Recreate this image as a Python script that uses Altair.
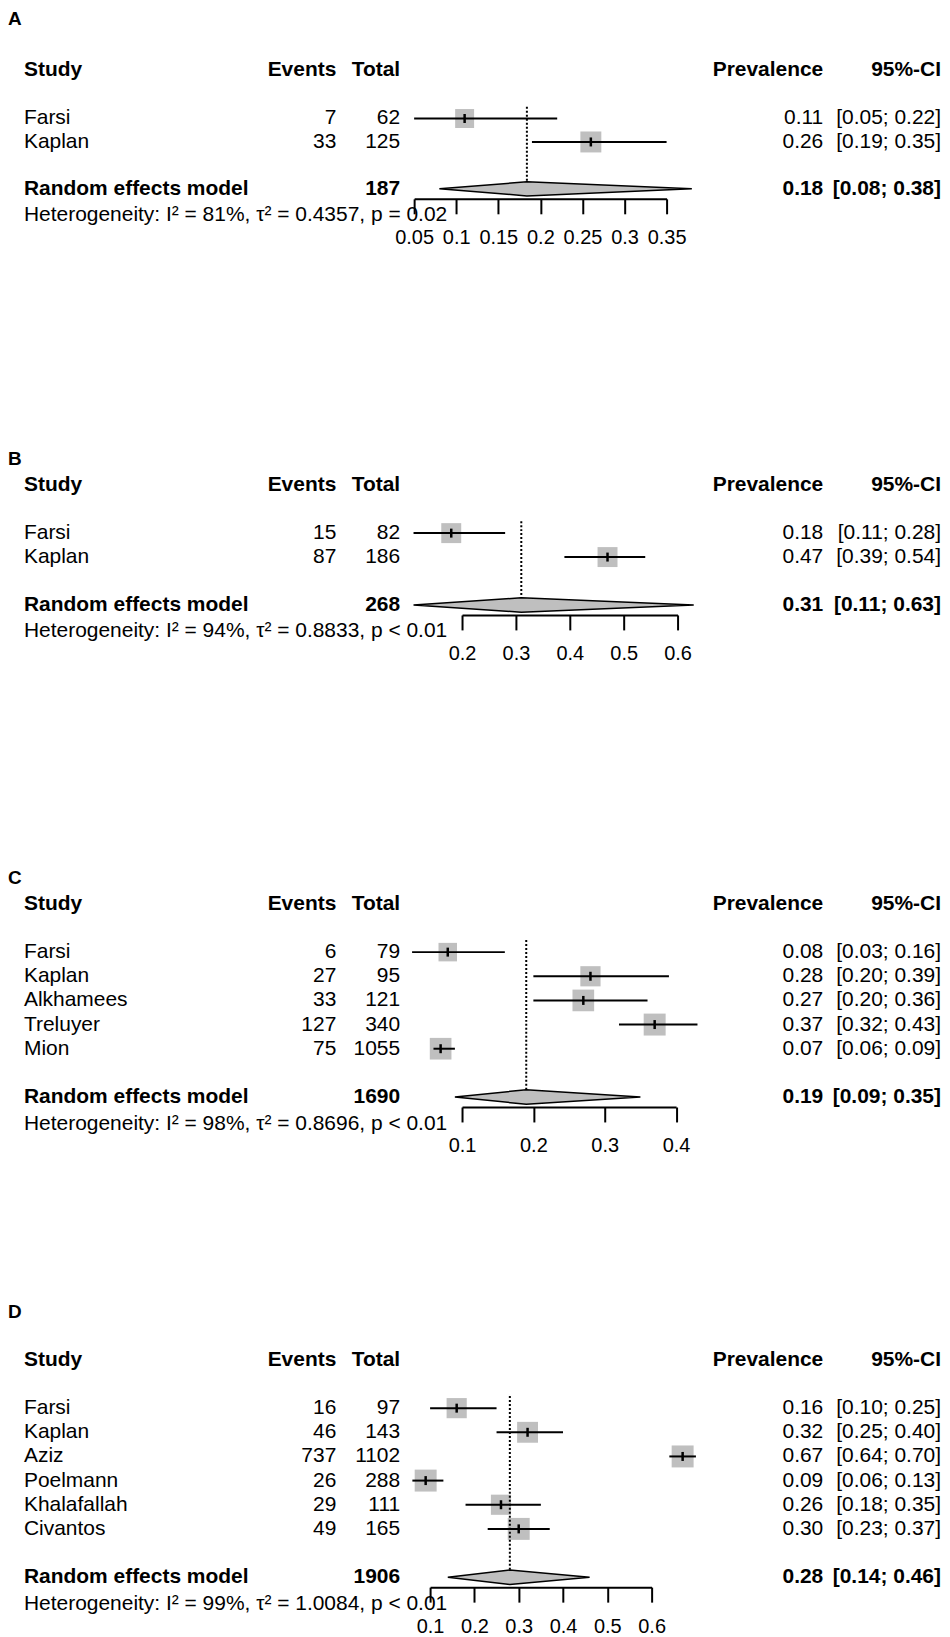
import altair as alt
import pandas as pd

FONT = "Liberation Sans, Arial, Helvetica, sans-serif"

# ---------------- data ----------------
# Panel A
a_study = ["Farsi", "Kaplan"]
a_events = [7, 33]
a_total = [62, 125]
a_est = [0.11, 0.26]
a_lo = [0.05, 0.19]
a_hi = [0.22, 0.35]
a_weight = [45, 55]
a_pool_total = 187
a_pool = [0.184, 0.08, 0.38]
a_het = "Heterogeneity: I² = 81%, τ² = 0.4357, p = 0.02"
a_ticks = [0.05, 0.10, 0.15, 0.20, 0.25, 0.30, 0.35]

# Panel B
b_study = ["Farsi", "Kaplan"]
b_events = [15, 87]
b_total = [82, 186]
b_est = [0.18, 0.47]
b_lo = [0.11, 0.39]
b_hi = [0.28, 0.54]
b_weight = [50, 50]
b_pool_total = 268
b_pool = [0.31, 0.11, 0.63]
b_het = "Heterogeneity: I² = 94%, τ² = 0.8833, p < 0.01"
b_ticks = [0.2, 0.3, 0.4, 0.5, 0.6]

# Panel C
c_study = ["Farsi", "Kaplan", "Alkhamees", "Treluyer", "Mion"]
c_events = [6, 27, 33, 127, 75]
c_total = [79, 95, 121, 340, 1055]
c_est = [0.08, 0.28, 0.27, 0.37, 0.07]
c_lo = [0.03, 0.20, 0.20, 0.32, 0.06]
c_hi = [0.16, 0.39, 0.36, 0.43, 0.09]
c_weight = [15.8, 18.8, 21.6, 22.2, 21.6]
c_pool_total = 1690
c_pool = [0.19, 0.09, 0.35]
c_het = "Heterogeneity: I² = 98%, τ² = 0.8696, p < 0.01"
c_ticks = [0.1, 0.2, 0.3, 0.4]

# Panel D
d_study = ["Farsi", "Kaplan", "Aziz", "Poelmann", "Khalafallah", "Civantos"]
d_events = [16, 46, 737, 26, 29, 49]
d_total = [97, 143, 1102, 288, 111, 165]
d_est = [0.16, 0.32, 0.67, 0.09, 0.26, 0.30]
d_lo = [0.10, 0.25, 0.64, 0.06, 0.18, 0.23]
d_hi = [0.25, 0.40, 0.70, 0.13, 0.35, 0.37]
d_weight = [15.1, 16.2, 17.9, 17.9, 15.1, 17.9]
d_pool_total = 1906
d_pool = [0.28, 0.14, 0.46]
d_het = "Heterogeneity: I² = 99%, τ² = 1.0084, p < 0.01"
d_ticks = [0.1, 0.2, 0.3, 0.4, 0.5, 0.6]

headers = ["Study", "Events", "Total", "Prevalence", "95%-CI"]
pooled_label = "Random effects model"

# ---------------- layout (page pixels) ----------------
LAYOUT = {
    "A": dict(letter=15, head=66, hdr=68, rh=23.5, px=(415, 668), box=21),
    "B": dict(letter=456, head=482, hdr=482, rh=24.0, px=(463, 679), box=20),
    "C": dict(letter=875, head=901, hdr=901, rh=24.2, px=(463, 677.5), box=22),
    "D": dict(letter=1310, head=1357.6, hdr=1357.6, rh=24.2, px=(431, 653), box=22),
}
MARGIN = 8
W = 936
COLX = {"study": 16, "events": 329, "total": 393, "eff": 817, "ci": 935}
FS = 21
GREY = "#bfbfbf"


def fmt(v):
    return f"{v:.2f}"


def panel(letter, study, events, total, est, lo, hi, weight, ptot, pool, het, ticks, top_page):
    L = LAYOUT[letter]
    n = len(study)
    hdr, rh = L["hdr"], L["rh"]
    head_row = (L["head"] - hdr) / rh
    rem_row = n + 3
    axis_page = hdr + rem_row * rh + 10
    row_top = (top_page - hdr) / rh
    row_axis = (axis_page - hdr) / rh
    H = axis_page - top_page

    yscale = alt.Scale(domain=[row_top, row_axis], range=[0, H], nice=False, zero=False)
    xscale = alt.Scale(domain=[ticks[0], ticks[-1]],
                       range=[L["px"][0] - MARGIN, L["px"][1] - MARGIN],
                       nice=False, zero=False)
    xaxis = alt.Axis(values=ticks, format="~g", title=None, grid=False,
                     domainColor="black", domainWidth=2, tickColor="black",
                     tickWidth=2, tickSize=15, labelFont=FONT, labelFontSize=20,
                     labelColor="black", labelPadding=14, labelOverlap=False,
                     labelFlush=False, orient="bottom")
    X = lambda f: alt.X(f, type="quantitative", scale=xscale, axis=xaxis)
    Y = lambda f: alt.Y(f, type="quantitative", scale=yscale, axis=None)

    rows = [2 + i for i in range(n)]
    sdf = pd.DataFrame(dict(study=study, events=events, total=total, est=est,
                            lo=lo, hi=hi, weight=weight, row=rows))

    squares = alt.Chart(sdf).mark_square(color=GREY, opacity=1).encode(
        x=X("est"), y=Y("row"),
        size=alt.Size("weight:Q", scale=alt.Scale(domain=[0, max(weight)],
                                                  range=[0, L["box"] ** 2], zero=True),
                      legend=None))
    ci = alt.Chart(sdf).mark_rule(color="black", strokeWidth=2).encode(
        x=X("lo"), x2="hi", y=Y("row"))
    ptick = alt.Chart(sdf).mark_tick(orient="vertical", color="black", size=9,
                                     thickness=2.5, opacity=1).encode(
        x=X("est"), y=Y("row"))

    pe, plo, phi = pool
    ddf = pd.DataFrame(dict(x=[pe], y1=[1.5], y2=[rem_row - 0.3]))
    dotted = alt.Chart(ddf).mark_rule(color="black", strokeWidth=2,
                                      strokeDash=[2, 2]).encode(
        x=X("x"), y=Y("y1"), y2="y2")
    h = 0.3
    dia = pd.DataFrame(dict(x=[plo, pe, phi], ya=[rem_row, rem_row - h, rem_row],
                            yb=[rem_row, rem_row + h, rem_row]))
    diamond = alt.Chart(dia).mark_area(orient="vertical", fill=GREY, stroke="black",
                                       strokeWidth=1.5, opacity=1).encode(
        x=X("x"), y=Y("ya"), y2="yb")

    layers = [squares, ci, ptick, dotted, diamond]

    def text_layer(items, col, align, bold, size=FS):
        df = pd.DataFrame(items, columns=["txt", "row"])
        return alt.Chart(df).mark_text(
            align=align, baseline="middle", font=FONT, fontSize=size,
            fontWeight="bold" if bold else "normal", color="black").encode(
            x=alt.value(COLX[col] if col in COLX else col), y=Y("row"), text="txt:N")

    # header + pooled (bold)
    layers.append(text_layer([(headers[0], head_row), (pooled_label, rem_row)], "study", "left", True))
    layers.append(text_layer([(headers[1], head_row)], "events", "right", True))
    layers.append(text_layer([(headers[2], head_row), (str(ptot), rem_row)], "total", "right", True))
    layers.append(text_layer([(headers[3], head_row), (fmt(pe), rem_row)], "eff", "right", True))
    layers.append(text_layer([(headers[4], head_row), (f"[{fmt(plo)}; {fmt(phi)}]", rem_row)],
                             "ci", "right", True))
    # study rows (normal)
    layers.append(text_layer(list(zip(study, rows)), "study", "left", False))
    layers.append(text_layer([(str(v), r) for v, r in zip(events, rows)], "events", "right", False))
    layers.append(text_layer([(str(v), r) for v, r in zip(total, rows)], "total", "right", False))
    layers.append(text_layer([(fmt(v), r) for v, r in zip(est, rows)], "eff", "right", False))
    layers.append(text_layer([(f"[{fmt(a)}; {fmt(b)}]", r) for a, b, r in zip(lo, hi, rows)],
                             "ci", "right", False))
    # heterogeneity
    layers.append(text_layer([(het, rem_row + 1.1)], "study", "left", False))
    # panel letter
    layers.append(text_layer([(letter, (L["letter"] - hdr) / rh)], 0, "left", True, size=19))

    ch = alt.layer(*layers).properties(width=W, height=H)
    return ch, axis_page


pA, axA = panel("A", a_study, a_events, a_total, a_est, a_lo, a_hi, a_weight,
                a_pool_total, a_pool, a_het, a_ticks, MARGIN)
pB, axB = panel("B", b_study, b_events, b_total, b_est, b_lo, b_hi, b_weight,
                b_pool_total, b_pool, b_het, b_ticks, axA)
pC, axC = panel("C", c_study, c_events, c_total, c_est, c_lo, c_hi, c_weight,
                c_pool_total, c_pool, c_het, c_ticks, axB)
pD, axD = panel("D", d_study, d_events, d_total, d_est, d_lo, d_hi, d_weight,
                d_pool_total, d_pool, d_het, d_ticks, axC)

chart = alt.vconcat(pA, pB, pC, pD, spacing=0, bounds="flush").resolve_scale(
    x="independent", y="independent", size="independent"
).configure_view(stroke=None).properties(padding=0, background="white")

chart.save("out.html", embed_options={"renderer": "svg", "actions": False})
